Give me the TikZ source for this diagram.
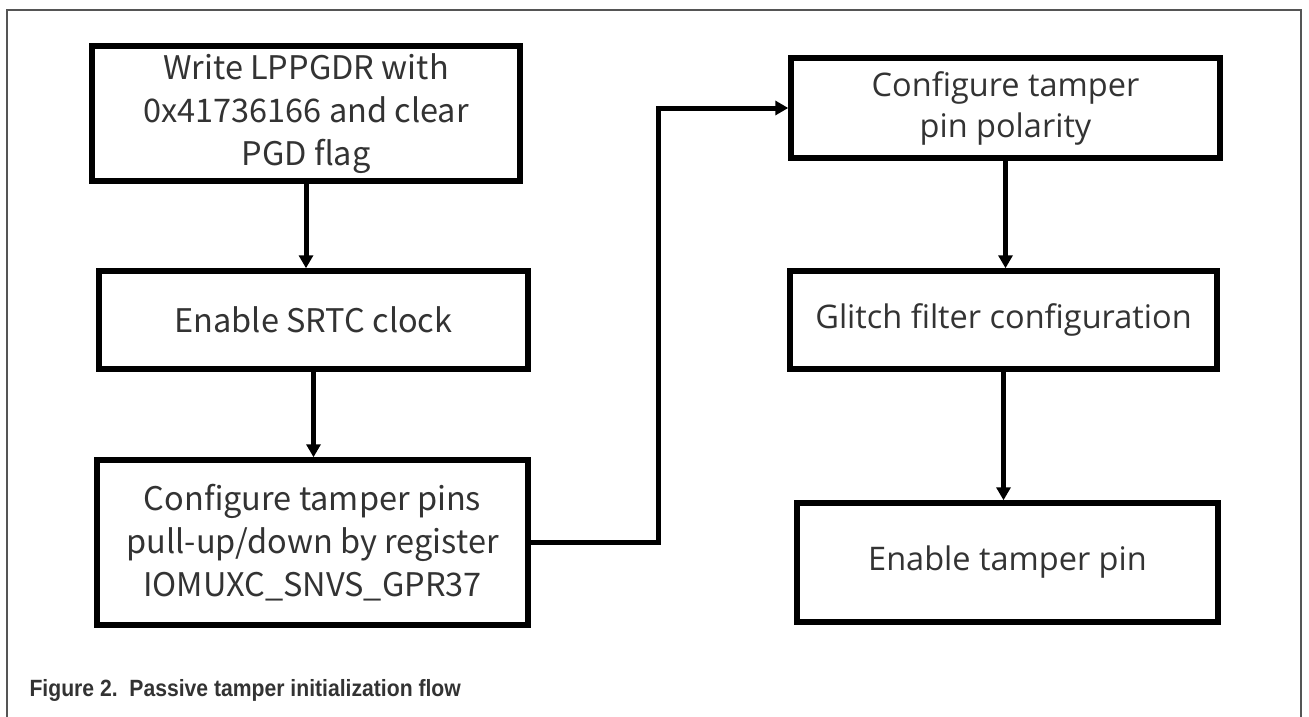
\documentclass[tikz,border=0pt]{standalone}
\usepackage{fontspec}
\setmainfont{Liberation Sans}
\newfontfamily\leftfont{Noto Sans CJK SC}
\newfontfamily\rightfont{Open Sans}
\usetikzlibrary{arrows.meta,positioning}
\definecolor{txtgray}{HTML}{333333}
\definecolor{framegray}{HTML}{555555}

\begin{document}
\begin{tikzpicture}[x=1pt, y=-1pt,
  box/.style={draw, line width=5.5pt, text=txtgray, align=center, inner sep=0pt},
  lbox/.style={box, font=\leftfont\fontsize{32.5}{43}\selectfont},
  rbox/.style={box, font=\rightfont\fontsize{32.5}{41}\selectfont},
  flow/.style={-{Triangle[length=13pt,width=14pt]}, line width=5pt}]
\useasboundingbox (0,0) rectangle (1309,717);
\fill[white] (0,0) rectangle (1309,717);

% Outer frame (open at the bottom)
\draw[framegray, line width=2pt] (7,717) -- (7,10) -- (1301,10) -- (1301,717);

% Left column
\node[lbox, minimum width=428pt, minimum height=135pt] (wrpgd) at (306,113.5)
  {Write LPPGDR with\\0x41736166 and clear\\PGD flag};
\node[lbox, minimum width=429pt, minimum height=98pt] (srtc) at (313.5,320)
  {Enable SRTC clock};
\node[lbox, minimum width=431pt, minimum height=165pt] (pins) at (312.5,542.5)
  {Configure tamper pins\\pull-up/down by register\\IOMUXC\_SNVS\_GPR37};

% Right column
\node[rbox, minimum width=429pt, minimum height=100pt] (polar) at (1005.5,108)
  {Configure tamper\\pin polarity};
\node[rbox, minimum width=427pt, minimum height=98pt] (glitch) at (1003.5,320)
  {Glitch filter configuration};
\node[rbox, minimum width=421pt, minimum height=119pt] (enpin) at (1007.5,562.5)
  {Enable tamper pin};

% Connectors
\draw[flow] (wrpgd.south) -- (wrpgd.south |- srtc.north);
\draw[flow] (srtc.south) -- (srtc.south |- pins.north);
\draw[flow] (pins.east) -- ++(128,0) |- (polar.west);
\draw[flow] (polar.south) -- (polar.south |- glitch.north);
\draw[flow] (glitch.south) -- (glitch.south |- enpin.north);

% Caption
\node[anchor=west, text=txtgray, font=\bfseries\fontsize{23.5}{28}\selectfont] (caption) at (26,690)
  {\scalebox{0.9}[1]{Figure 2.\ \ Passive tamper initialization flow}};
\end{tikzpicture}
\end{document}
